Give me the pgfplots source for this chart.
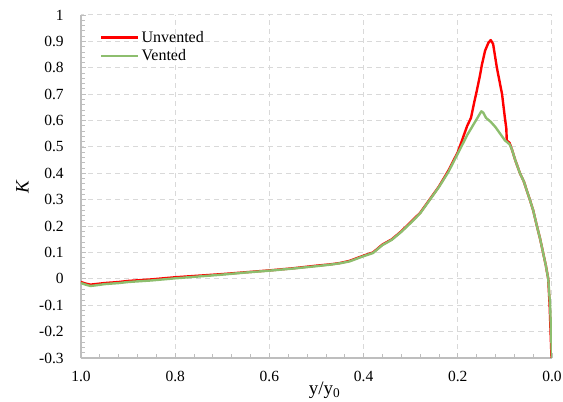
\documentclass[border=0pt]{standalone}
\usepackage{fontspec}
\setmainfont{Liberation Serif}
\usepackage{pgfplots}
\pgfplotsset{compat=1.18}
\definecolor{unv}{RGB}{255,0,0}
\definecolor{ven}{RGB}{141,190,110}
\definecolor{axgray}{RGB}{190,190,190}
\definecolor{grdgray}{RGB}{217,217,217}
\begin{document}
\fontsize{15.5}{18}\selectfont
\begin{tikzpicture}
\begin{axis}[
    name=ax,
    scale only axis,
    width=471pt, height=343pt,
    x dir=reverse,
    xmin=0, xmax=1, ymin=-0.3, ymax=1,
    xtick={0,0.2,0.4,0.6,0.8,1.0},
    ytick={-0.3,-0.2,...,1.0},
    minor x tick num=4,
    minor y tick num=4,
    axis x line*=bottom, axis y line*=left,
    axis line style={axgray, line width=1.2pt, -},
    tick style={axgray, line width=0.8pt},
    major tick length=5pt, minor tick length=4pt,
    tick align=inside,
    grid=major,
    major grid style={grdgray, dash pattern=on 5pt off 4pt, line width=1pt},
    x tick label style={/pgf/number format/fixed, /pgf/number format/fixed zerofill, /pgf/number format/precision=1, yshift=-8pt},
    y tick label style={/pgf/number format/fixed, /pgf/number format/precision=1, xshift=-12pt},
    /pgf/number format/assume math mode=true,
    ticklabel style={font=\fontsize{15.5}{18}\selectfont},
    xlabel={y/y\textsubscript{0}},
    xlabel style={at={(axis description cs:0.517,0)}, anchor=north, yshift=-19pt, font=\fontsize{19}{21}\selectfont},
    ylabel={\textit{K}},
    ylabel style={at={(axis description cs:0,0.5)}, anchor=south, yshift=47pt, font=\fontsize{19}{21}\selectfont},
    legend style={draw=none, fill=none, at={(0.04,0.96)}, anchor=north west,
        font=\fontsize{16}{18}\selectfont, row sep=1pt, inner sep=0pt},
    legend cell align=left,
    legend image code/.code={\draw[#1, line width=2.6pt] (0pt,0pt) -- (37pt,0pt);},
]
\addplot[unv, line width=2.4pt, line join=round] coordinates {
(1.00,-0.012) (0.99,-0.018) (0.98,-0.022) (0.97,-0.020) (0.95,-0.016)
(0.92,-0.012) (0.90,-0.008) (0.85,-0.002) (0.80,0.006) (0.75,0.012)
(0.70,0.018) (0.65,0.025) (0.60,0.032) (0.55,0.040) (0.50,0.050)
(0.47,0.055) (0.45,0.060) (0.43,0.068) (0.40,0.088) (0.38,0.100)
(0.36,0.130) (0.34,0.150) (0.32,0.180) (0.30,0.215) (0.28,0.250)
(0.26,0.300) (0.24,0.350) (0.22,0.410) (0.20,0.480) (0.19,0.530)
(0.18,0.580) (0.172,0.610) (0.165,0.670) (0.16,0.710) (0.153,0.770)
(0.149,0.810) (0.142,0.865) (0.135,0.895) (0.13,0.905) (0.125,0.890)
(0.117,0.800) (0.106,0.700) (0.100,0.610) (0.097,0.570) (0.096,0.525)
(0.09,0.515) (0.085,0.490) (0.078,0.450) (0.068,0.400) (0.06,0.370)
(0.047,0.300) (0.04,0.260) (0.032,0.200) (0.025,0.150) (0.019,0.100)
(0.013,0.050) (0.008,0.000) (0.005,-0.100) (0.003,-0.200) (0.001,-0.300)
};
\addlegendentry{Unvented}
\addplot[ven, line width=2.4pt, line join=round] coordinates {
(1.00,-0.016) (0.99,-0.022) (0.98,-0.027) (0.97,-0.025) (0.95,-0.020)
(0.92,-0.016) (0.90,-0.012) (0.85,-0.006) (0.80,0.002) (0.75,0.009)
(0.70,0.016) (0.65,0.024) (0.60,0.031) (0.55,0.039) (0.50,0.048)
(0.47,0.054) (0.45,0.059) (0.43,0.066) (0.40,0.086) (0.38,0.098)
(0.36,0.128) (0.34,0.148) (0.32,0.178) (0.30,0.212) (0.28,0.248)
(0.26,0.298) (0.24,0.348) (0.22,0.405) (0.20,0.475) (0.19,0.510)
(0.18,0.545) (0.17,0.575) (0.16,0.605) (0.15,0.635) (0.146,0.630)
(0.14,0.610) (0.13,0.595) (0.12,0.575) (0.11,0.550) (0.10,0.525)
(0.09,0.510) (0.085,0.490) (0.078,0.450) (0.068,0.400) (0.06,0.370)
(0.047,0.300) (0.04,0.260) (0.032,0.200) (0.025,0.150) (0.019,0.100)
(0.013,0.050) (0.008,0.000) (0.004,-0.100) (0.002,-0.200) (0.0,-0.300)
};
\addlegendentry{Vented}
\end{axis}
\pgfresetboundingbox
\path ([xshift=-81pt,yshift=-44pt]ax.south west) rectangle ([xshift=11pt,yshift=15pt]ax.north east);
\end{tikzpicture}
\end{document}
